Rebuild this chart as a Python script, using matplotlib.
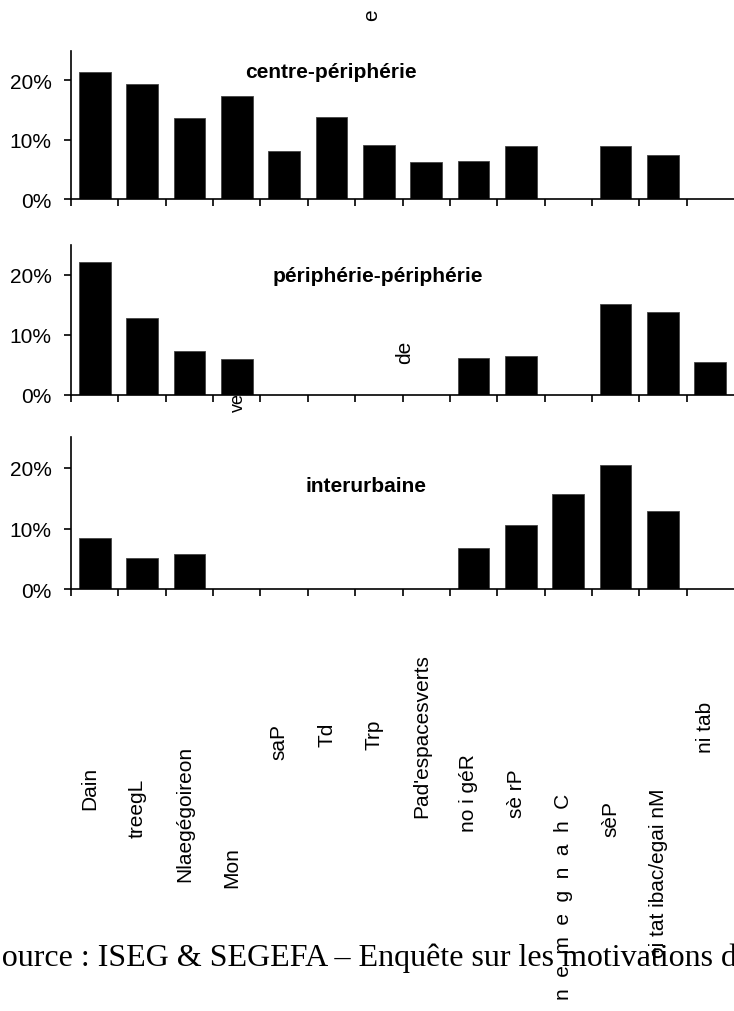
import numpy as np
import matplotlib
matplotlib.use('Agg')
import matplotlib.pyplot as plt
from matplotlib import transforms
from matplotlib.ticker import FuncFormatter

# category labels as they appear (garbled, rotated) under the last panel
labels = ['Dain', 'treegL', 'Nlaegégoireon', 'Mon', 'saP', 'Td', 'Trp',
          "Pad'espacesverts", 'no i géR', 'sè rP',
          'n  e  m  e  g  n  a  h  C', 'sèP', 'oi tat ibac/egai nM', 'ni tab']
# bottom / top of each label in figure pixels (from the top)
label_bottom = [810, 838, 882, 888, 760, 747, 750, 818, 832, 818, 1000, 837, 958, 753]

centre_peri = [21.4, 19.4, 13.6, 17.3, 8.2, 13.9, 9.2, 6.2, 6.5, 8.9, 0, 8.9, 7.5, 0]
peri_peri = [22.2, 12.8, 7.3, 6.0, 0, 0, 0, 0, 6.05, 6.4, 0, 15.1, 13.8, 5.4]
interurbaine = [8.5, 5.2, 5.8, 0, 0, 0, 0, 0, 6.85, 10.5, 15.6, 20.4, 12.9, 0]

titles = ['centre-périphérie', 'périphérie-périphérie', 'interurbaine']
series = [centre_peri, peri_peri, interurbaine]

plt.rcParams['font.family'] = ['Liberation Sans', 'DejaVu Sans']

W, H = 734, 1012
fig = plt.figure(figsize=(W / 100, H / 100), dpi=100)

# axes boxes in pixels: (top, bottom)
boxes = [(51.7, 200.3), (246, 395.7), (438.3, 590.3)]
title_pos = [(331, 73), (378, 277), (366, 487)]
left = 71

x = np.arange(len(labels))
axes = []
for (top, bot), vals, title, tp in zip(boxes, series, titles, title_pos):
    ax = fig.add_axes([left / W, 1 - bot / H, (W - left) / W, (bot - top) / H])
    ax.bar(x, vals, width=0.67, color='black', edgecolor='#444444', linewidth=0.6)
    ax.set_xlim(-0.5, 13.5)
    ax.set_ylim(0, 25)
    ax.set_yticks([0, 10, 20])
    ax.yaxis.set_major_formatter(FuncFormatter(lambda v, p: '%d%%' % v))
    ax.set_xticks(x - 0.5)
    ax.set_xticklabels([])
    ax.spines['top'].set_visible(False)
    ax.spines['right'].set_visible(False)
    ax.spines['left'].set_linewidth(1.2)
    ax.spines['bottom'].set_linewidth(1.2)
    ax.tick_params(axis='both', direction='out', length=5, width=1.2, labelsize=15)
    ax.tick_params(axis='y', pad=9)
    fig.text(tp[0] / W, 1 - tp[1] / H, title, ha='center', va='center',
             fontsize=15, fontweight='bold')
    axes.append(ax)

# rotated labels, placed on the category positions of the last axes
trans = transforms.blended_transform_factory(axes[-1].transData, fig.transFigure)
for i, (lab, b) in enumerate(zip(labels, label_bottom)):
    fig.text(i - 0.1, 1 - b / H, lab, rotation=90, ha='center', va='bottom',
             fontsize=15, transform=trans)

# stray fragments
fig.text(372 / W, 1 - 15 / H, 'e', rotation=90, ha='center', va='center', fontsize=15)
fig.text(405 / W, 1 - 352 / H, 'de', rotation=90, ha='center', va='center', fontsize=15)
fig.text(238 / W, 1 - 412 / H, 'ves', rotation=90, ha='center', va='bottom', fontsize=13)

fig.text(-16 / W, 1 - 966 / H,
         'Source : ISEG & SEGEFA – Enquête sur les motivations de déménagement',
         ha='left', va='baseline', fontsize=23, family='Liberation Serif')

fig.savefig('out.png', dpi=100)
